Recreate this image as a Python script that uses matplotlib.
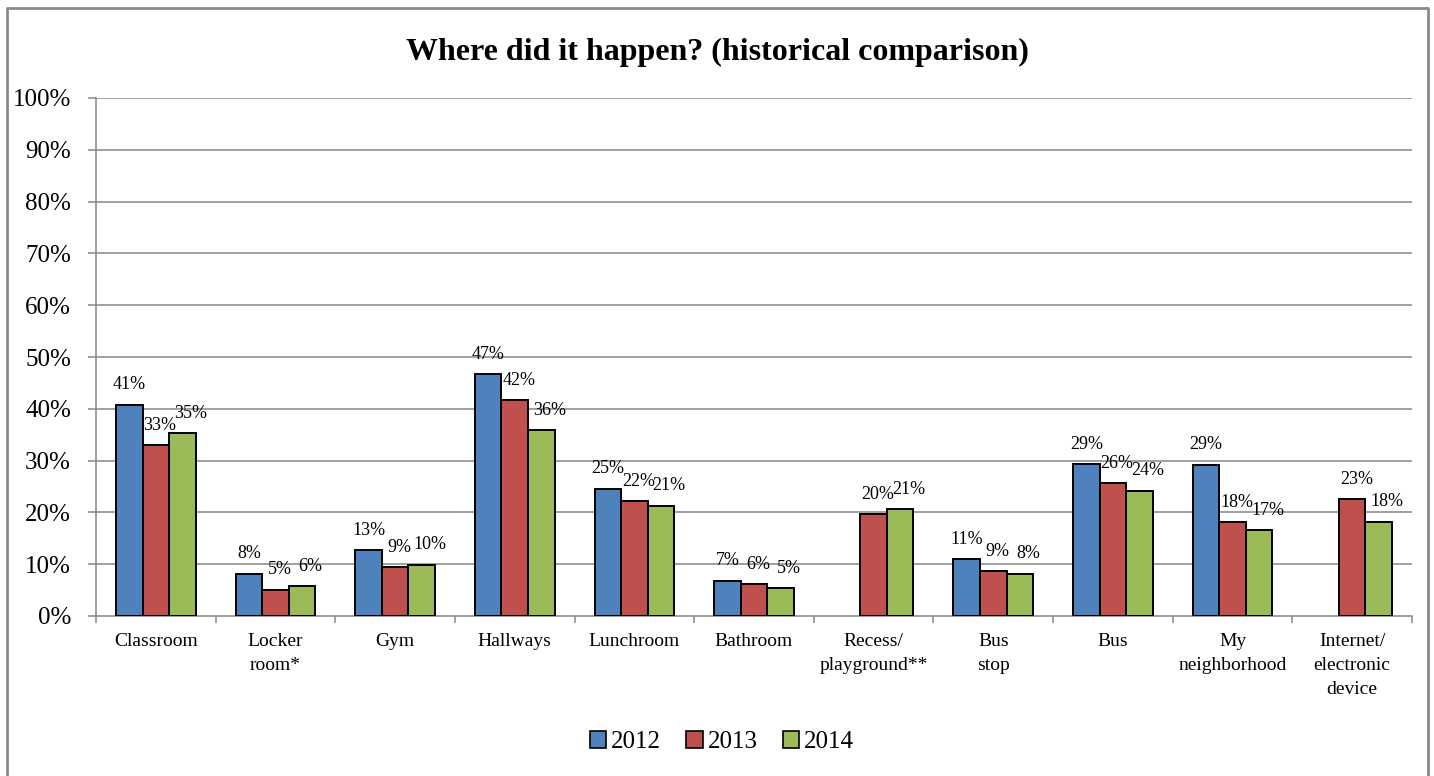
import numpy as np
import matplotlib
matplotlib.use("Agg")
import matplotlib.pyplot as plt
from matplotlib.patches import Patch
from matplotlib.lines import Line2D
from matplotlib.ticker import FuncFormatter, FixedLocator

plt.rcParams['font.family'] = ['Liberation Serif', 'DejaVu Serif']

categories = ["Classroom", "Locker\nroom*", "Gym", "Hallways", "Lunchroom", "Bathroom",
              "Recess/\nplayground**", "Bus\nstop", "Bus", "My\nneighborhood",
              "Internet/\nelectronic\ndevice"]
years = ["2012", "2013", "2014"]
vals_2012 = [40.8, 8.2, 12.7, 46.7, 24.6, 6.8, np.nan, 11.0, 29.3, 29.2, np.nan]
vals_2013 = [33.0, 5.1, 9.4, 41.7, 22.2, 6.2, 19.6, 8.6, 25.7, 18.1, 22.6]
vals_2014 = [35.3, 5.7, 9.9, 35.9, 21.3, 5.4, 20.6, 8.2, 24.2, 16.6, 18.2]
colors = ["#4F81BD", "#C0504D", "#9BBB59"]

W, H = 1434, 776
fig = plt.figure(figsize=(W / 100, H / 100), dpi=100)
ax = fig.add_axes([96 / W, 1 - 616 / H, (1412 - 96) / W, (616 - 98) / H])

grid_c = "#868686"
x = np.arange(len(categories))
bw = 0.222
label_shift = [0, 3, 6]  # points, keeps neighbouring value labels apart
for k, (series, col) in enumerate(zip([vals_2012, vals_2013, vals_2014], colors)):
    xs = x + (k - 1) * bw
    ax.bar(xs, series, width=bw, color=col, edgecolor="black", linewidth=1.4, zorder=3)
    for xi, v in zip(xs, series):
        if np.isnan(v):
            continue
        ax.annotate(f"{round(v):d}%", (xi, v), xytext=(label_shift[k], 11),
                    textcoords="offset points", ha="center", va="baseline",
                    fontsize=13, zorder=4)

ax.set_xlim(-0.5, len(categories) - 0.5)
ax.set_ylim(0, 100)
ax.set_yticks(np.arange(0, 101, 10))
ax.yaxis.set_major_formatter(FuncFormatter(lambda v, p: f"{v:.0f}%"))
ax.tick_params(axis="y", labelsize=18, length=6, width=1.1, color=grid_c, pad=12)
for yv in range(10, 101, 10):
    ax.axhline(yv, color=grid_c, linewidth=1.1, zorder=1)

# category labels at the centres, tick marks on the boundaries
ax.set_xticks(x)
ax.set_xticklabels(categories, fontsize=14, linespacing=1.55)
ax.tick_params(axis="x", which="major", length=0, pad=12)
ax.xaxis.set_minor_locator(FixedLocator(np.arange(-0.5, len(categories), 1.0)))
ax.tick_params(axis="x", which="minor", length=5, width=1.1, color=grid_c)

for s in ["top", "right"]:
    ax.spines[s].set_visible(False)
for s in ["left", "bottom"]:
    ax.spines[s].set_color(grid_c)
    ax.spines[s].set_linewidth(1.1)

fig.text(0.5, 1 - 52 / H, "Where did it happen? (historical comparison)",
         ha="center", va="center", fontsize=23, fontweight="bold")

handles = [Patch(facecolor=c, edgecolor="black", linewidth=1.2, label=y) for c, y in zip(colors, years)]
fig.legend(handles=handles, loc="center", bbox_to_anchor=(722 / W, 1 - 742 / H), ncol=3,
           frameon=False, fontsize=18, handlelength=0.65, handleheight=0.65,
           handletextpad=0.2, columnspacing=1.0)

# chart border (open at the bottom)
bc = "#8a8a8a"
fx = [7 / W, 7 / W, 1428 / W, 1428 / W]
fy = [0, 1 - 8 / H, 1 - 8 / H, 0]
fig.add_artist(Line2D(fx, fy, color=bc, linewidth=2, transform=fig.transFigure))

fig.savefig("out.png", dpi=100)
